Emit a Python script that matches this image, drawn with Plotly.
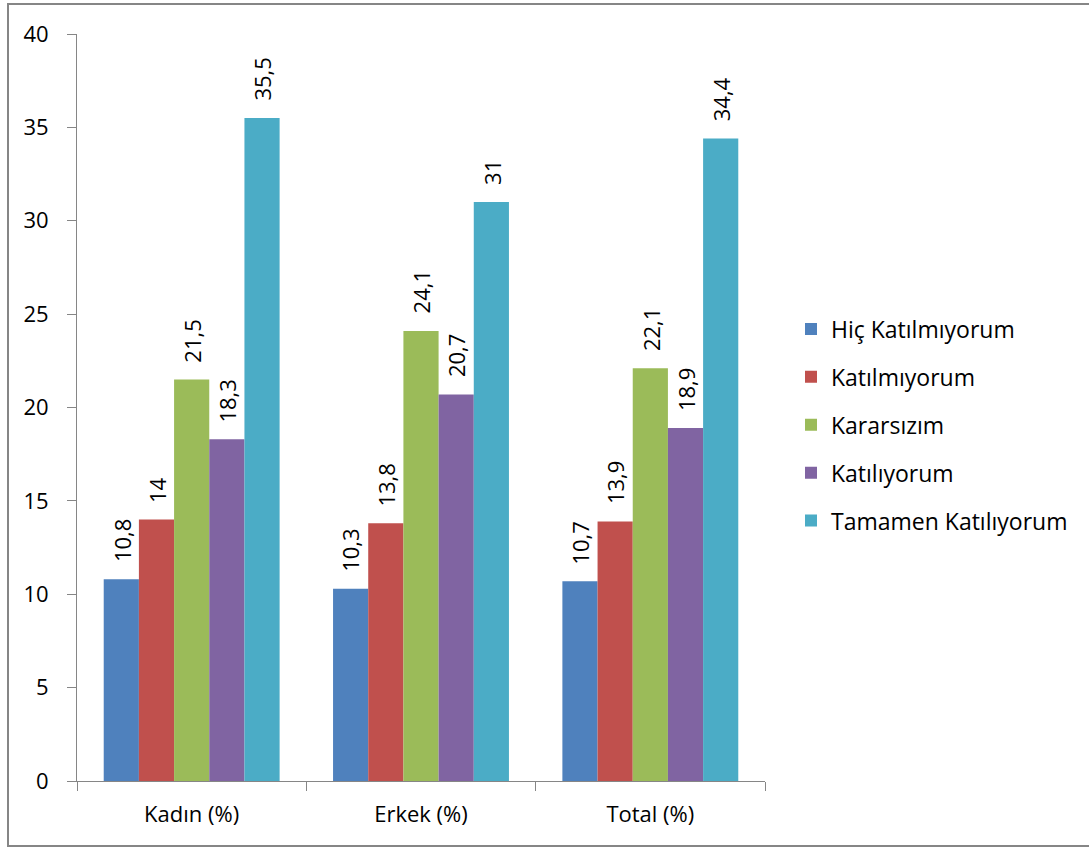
import plotly.graph_objects as go

# Survey responses by group (percent)
groups = ["Kadın (%)", "Erkek (%)", "Total (%)"]
series_names = ["Hiç Katılmıyorum", "Katılmıyorum", "Kararsızım", "Katılıyorum", "Tamamen Katılıyorum"]
hic_katilmiyorum = [10.8, 10.3, 10.7]
katilmiyorum = [14.0, 13.8, 13.9]
kararsizim = [21.5, 24.1, 22.1]
katiliyorum = [18.3, 20.7, 18.9]
tamamen_katiliyorum = [35.5, 31.0, 34.4]
y_ticks = [0, 5, 10, 15, 20, 25, 30, 35, 40]

series_values = [hic_katilmiyorum, katilmiyorum, kararsizim, katiliyorum, tamamen_katiliyorum]
colors = ["#4F81BD", "#C0504D", "#9BBB59", "#8064A2", "#4BACC6"]

FONT = "Open Sans"
W, H = 1089, 849
L, R, T, B = 77, 324, 34, 68
BARGAP = 0.233
n_series = len(series_names)
bar_w = (1 - BARGAP) / n_series


def fmt(v):
    return f"{v:g}".replace(".", ",")


fig = go.Figure()
annotations = []
for j, (name, vals, col) in enumerate(zip(series_names, series_values, colors)):
    fig.add_trace(go.Bar(
        x=groups,
        y=vals,
        name=name,
        legendgroup=f"g{j}",
        marker=dict(color=col, line=dict(width=0)),
    ))
    # value labels, rotated, sitting above each bar
    for i, v in enumerate(vals):
        annotations.append(dict(
            x=i + (j - (n_series - 1) / 2) * bar_w,
            y=v,
            xref="x", yref="y",
            text=fmt(v),
            textangle=-90,
            showarrow=False,
            xanchor="center",
            yanchor="bottom",
            yshift=15,
            font=dict(family=FONT, size=22, color="#000000"),
        ))

pw = W - L - R
ph = H - T - B

fig.update_layout(
    width=W,
    height=H,
    margin=dict(l=L, r=R, t=T, b=B, pad=0),
    paper_bgcolor="white",
    plot_bgcolor="white",
    barmode="group",
    bargap=BARGAP,
    bargroupgap=0,
    font=dict(family=FONT, size=22, color="#000000"),
    legend=dict(
        x=(791 - L) / pw,
        xanchor="left",
        y=(H - B - 425) / ph,
        yanchor="middle",
        font=dict(family=FONT, size=23, color="#000000"),
        tracegroupgap=15,
        itemwidth=30,
        bgcolor="rgba(0,0,0,0)",
    ),
    xaxis=dict(
        showline=True,
        linecolor="#868686",
        linewidth=1,
        ticks="outside",
        tickson="boundaries",
        ticklen=9,
        tickcolor="#868686",
        showgrid=False,
        ticklabelstandoff=14,
        tickfont=dict(family=FONT, size=22, color="#000000"),
    ),
    yaxis=dict(
        range=[0, 40],
        tickvals=y_ticks,
        showline=True,
        linecolor="#868686",
        linewidth=1,
        ticks="outside",
        ticklen=9,
        tickcolor="#868686",
        showgrid=False,
        zeroline=False,
        ticklabelstandoff=14,
        tickfont=dict(family=FONT, size=22, color="#000000"),
    ),
    annotations=annotations,
    shapes=[dict(
        type="rect",
        xref="paper", yref="paper",
        x0=(8 - L) / pw, x1=(W + 10 - L) / pw,
        y0=(H - B - 846) / ph, y1=(H - B - 4) / ph,
        line=dict(color="#868686", width=2),
        fillcolor="rgba(0,0,0,0)",
        layer="below",
    )],
)

fig.write_html("out.html")
